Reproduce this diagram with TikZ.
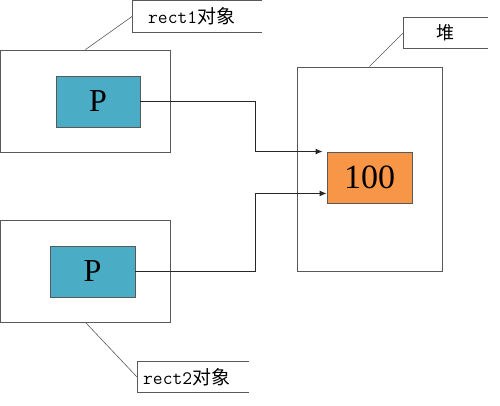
\documentclass[tikz,border=0pt]{standalone}
\usepackage{fontspec}
\setmainfont{Liberation Serif}
\newfontfamily\cjk{Noto Sans CJK SC}
\usepackage{xcolor}
\usepackage{tikz}
\usetikzlibrary{calc}
\usetikzlibrary{arrows.meta}

\definecolor{pteal}{HTML}{4BACC6}
\definecolor{vorange}{HTML}{F79646}
\definecolor{edgegray}{HTML}{595959}

\begin{document}
\begin{tikzpicture}
    [
        x=1pt, y=-1pt,
        outerbox/.style={draw=edgegray, line width=0.9pt, inner sep=0pt},
        ptrbox/.style={draw=edgegray, line width=0.9pt, fill=pteal, inner sep=0pt,
            minimum height=51pt, font=\fontsize{32}{32}\selectfont},
        valbox/.style={draw=edgegray, line width=0.9pt, fill=vorange, inner sep=0pt,
            minimum width=85pt, minimum height=51pt, font=\fontsize{34}{34}\selectfont},
        tag/.style={inner sep=0pt, minimum height=31pt, font=\fontsize{18}{18}\selectfont},
        tagline/.style={draw=edgegray, line width=0.9pt},
        link/.style={draw=black!85, line width=0.9pt},
        arr/.style={link, -{Latex[length=7pt, width=6pt]}}
    ]
        %GRID
        %\draw[lightgray] (0,0) grid[step=50] (500,406);
        \useasboundingbox (0,0) rectangle (500,406);

        %RECT1
        \node[outerbox, minimum width=170pt, minimum height=102pt] (rect1) at (85.5,101) {};
        \node[ptrbox, minimum width=84pt] (p1) at (98,101.5) {P};

        %RECT2
        \node[outerbox, minimum width=170pt, minimum height=102pt] (rect2) at (85.5,271) {};
        \node[ptrbox, minimum width=85pt] (p2) at (92.5,271.5) {P};

        %HEAP
        \node[outerbox, minimum width=145pt, minimum height=204pt] (heap) at (369.5,169) {};
        \node[valbox] (val) at (369.5,177.5) {100};

        %TAGS
        \node[tag, anchor=west, minimum width=130pt, text width=98pt, align=left,
            inner xsep=16pt] (tag1) at (132,16.5) {\ttfamily\fontsize{19}{19}\selectfont rect1\cjk 对象};
        \node[tag, anchor=west, minimum width=112pt, text width=100pt, align=left,
            inner xsep=6pt] (tag2) at (137,377) {\ttfamily\fontsize{19}{19}\selectfont rect2\cjk 对象};
        \node[tag, anchor=west, minimum width=85pt, minimum height=30pt] (tag3) at (403,33) {\cjk 堆};

        \draw[tagline] (tag1.north east) -- (tag1.north west) -- (tag1.south west) -- (tag1.south east);
        \draw[tagline] (tag2.north east) -- (tag2.north west) -- (tag2.south west) -- (tag2.south east);
        \draw[tagline] (tag3.north east) -- (tag3.north west) -- (tag3.south west) -- (tag3.south east);
        \draw[tagline, line width=0.6pt] (rect1.north) -- (tag1.west);
        \draw[tagline, line width=0.6pt] (rect2.south) -- (tag2.west);
        \draw[tagline, line width=0.6pt] (heap.north) -- (tag3.west);

        %POINTERS
        \coordinate (bend) at (255,0);
        \draw[arr] (p1.east) -- (p1.east -| bend) |- ([xshift=-4pt]val.north west);
        \draw[arr] (p2.east) -- (p2.east -| bend) |- ([yshift=10pt]val.south west);
    \end{tikzpicture}
\end{document}
